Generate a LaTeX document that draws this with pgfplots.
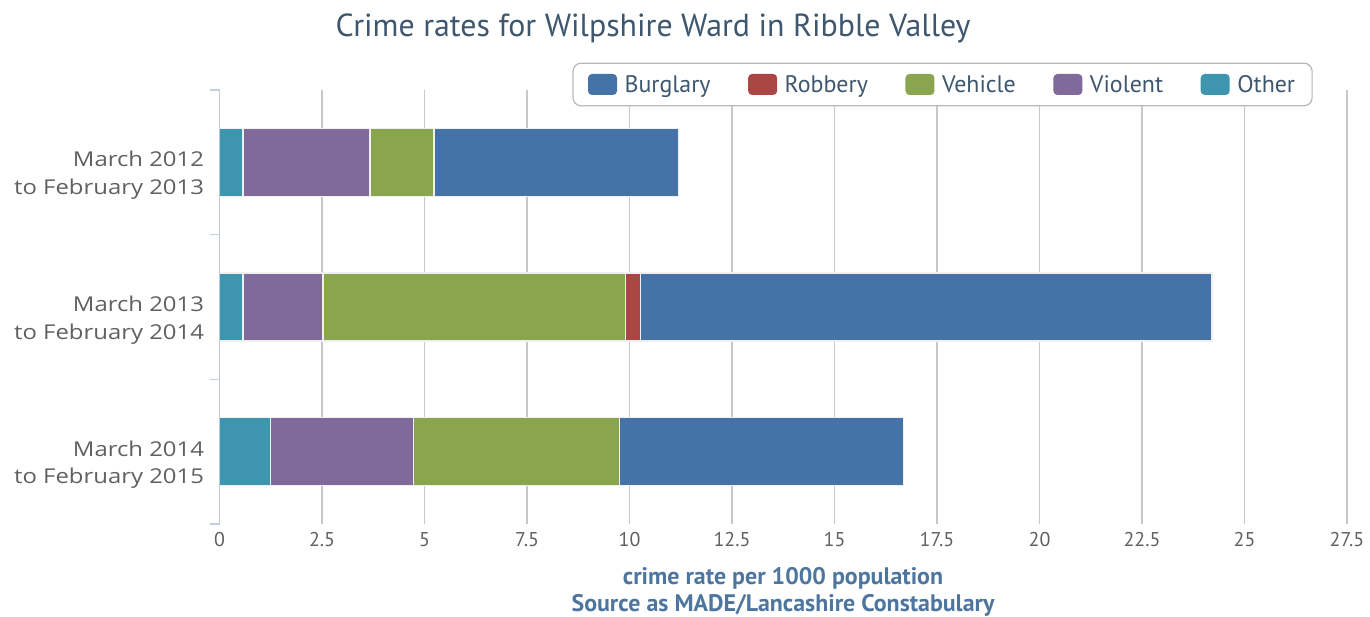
\documentclass[border=0pt]{standalone}
\usepackage{fontspec}
\setmainfont{Open Sans}
\newfontfamily\cond{PT Sans}
\newfontfamily\ylab[FakeStretch=1.17]{Open Sans}
\usepackage{pgfplots}
\pgfplotsset{compat=1.18}
\definecolor{burg}{HTML}{4572A7}
\definecolor{robb}{HTML}{AA4643}
\definecolor{vehi}{HTML}{89A54E}
\definecolor{viol}{HTML}{80699B}
\definecolor{othe}{HTML}{3D96AE}
\definecolor{titlec}{HTML}{3E576F}
\definecolor{axtitle}{HTML}{4D759E}
\definecolor{gridc}{HTML}{C8C8C8}
\definecolor{axisc}{HTML}{C0D0E0}
\definecolor{legc}{HTML}{B8B8B8}
\definecolor{labc}{HTML}{606060}
\begin{document}
\begin{tikzpicture}[x=1bp,y=1bp]
\path[use as bounding box] (0,0) rectangle (1370,617);
\node[font=\cond\fontsize{32}{36}\selectfont, text=titlec] at (653,589) {Crime rates for Wilpshire Ward in Ribble Valley};
\begin{axis}[
  at={(219.5bp,93bp)}, anchor=south west, scale only axis,
  width=1127.5bp, height=434bp,
  xbar stacked, bar width=68bp,
  xmin=0, xmax=27.5, ymin=-0.5, ymax=2.5, y dir=reverse,
  axis line style={draw=none},
  xtick={0,2.5,5,7.5,10,12.5,15,17.5,20,22.5,25,27.5},
  xticklabels={0,2.5,5,7.5,10,12.5,15,17.5,20,22.5,25,27.5},
  xmajorgrids, grid style={draw=gridc, line width=1.2bp},
  xtick style={draw=none},
  xticklabel style={font=\cond\fontsize{20}{22}\selectfont, text=labc, yshift=-5bp},
  ytick={0,1,2},
  yticklabels={{March 2012\\to February 2013},{March 2013\\to February 2014},{March 2014\\to February 2015}},
  yticklabel style={align=right, font=\ylab\fontsize{20.5}{28}\selectfont, text=labc, yshift=-13bp, xshift=-12bp},
  ytick style={draw=none},
  extra y ticks={-0.5,0.5,1.5,2.5},
  extra y tick labels={},
  extra y tick style={ytick style={draw=axisc, line width=1.2bp}, tick align=outside, major tick length=10bp, ytick pos=left, grid=none},
  ytick pos=left,
  reverse legend,
  legend columns=-1,
  legend style={at={(0.6413,1.0127)}, anchor=center, draw=legc, line width=1.2bp, rounded corners=8bp,
    font=\cond\fontsize{24}{28}\selectfont, text=titlec, inner xsep=15bp, inner ysep=10bp,
    /tikz/every odd column/.append style={column sep=5.6bp},
    /tikz/every even column/.append style={column sep=35.6bp}},
  legend image code/.code={\fill[#1, draw=none, rounded corners=4bp] (0bp,-10.5bp) rectangle (29bp,10.5bp);},
  every axis plot/.append style={draw=white!94!black, line width=1.5bp},
]
\draw[axisc, line width=1.2bp] (axis cs:0,-0.5) -- (axis cs:0,2.5);
\addplot[fill=othe] coordinates {(0.57,0) (0.57,1) (1.24,2)};
\addplot[fill=viol] coordinates {(3.10,0) (1.95,1) (3.49,2)};
\addplot[fill=vehi] coordinates {(1.56,0) (7.38,1) (5.03,2)};
\addplot[fill=robb] coordinates {(0,0) (0.37,1) (0,2)};
\addplot[fill=burg] coordinates {(5.96,0) (13.94,1) (6.92,2)};
\legend{Other\hspace{22.5bp},Violent,Vehicle,Robbery,Burglary}
\end{axis}
\node[font=\cond\bfseries\fontsize{24}{28}\selectfont, text=axtitle] at (783,38.5) {crime rate per 1000 population};
\node[font=\cond\bfseries\fontsize{24}{28}\selectfont, text=axtitle] at (783,12) {Source as MADE/Lancashire Constabulary};
\end{tikzpicture}
\end{document}
